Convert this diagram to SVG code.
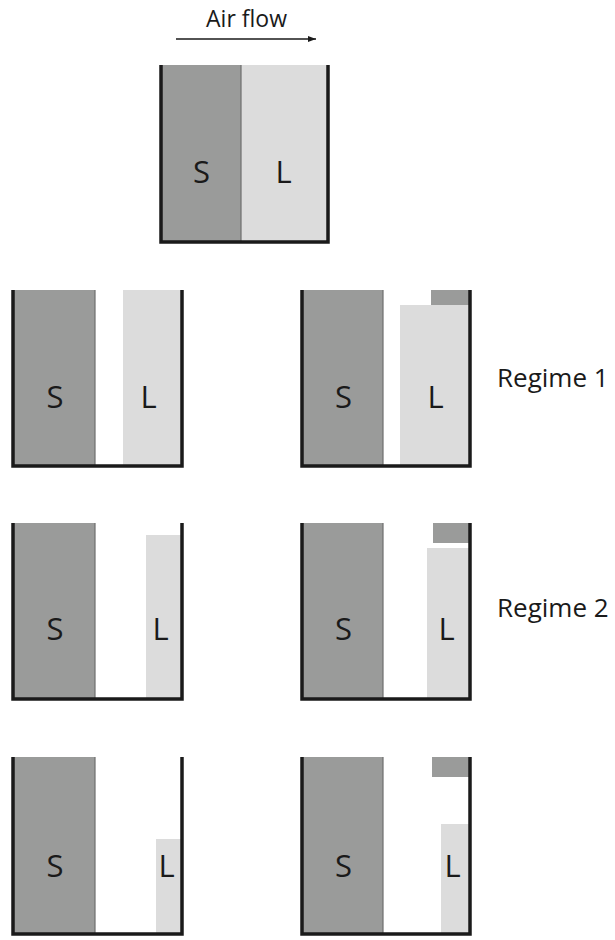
<svg xmlns="http://www.w3.org/2000/svg" width="615" height="940" viewBox="0 0 615 940">
<style>
.wall{fill:none;stroke:#1a1a1a;stroke-width:3.5;stroke-linejoin:miter;stroke-linecap:butt}
.s{fill:#9a9b9a}
.sedge{stroke:#6e6e6e;stroke-width:1.2}
.l{fill:#dcdcdc}
.lab{font-family:"Open Sans",sans-serif;font-size:31px;fill:#1a1a1a}
.txt{font-family:"Open Sans",sans-serif;fill:#1a1a1a}
</style>
<defs>
<marker id="ah" markerWidth="8" markerHeight="6" refX="8" refY="3" orient="auto" markerUnits="userSpaceOnUse">
<path d="M0,0 L8,3 L0,6 Z" fill="#1a1a1a"/>
</marker>
</defs>
<rect width="615" height="940" fill="#fff"/>
<g id="airflow">
<text class="txt" x="246.5" y="27" font-size="23" text-anchor="middle">Air flow</text>
<line x1="176" y1="39" x2="316" y2="39" stroke="#1a1a1a" stroke-width="1.3" marker-end="url(#ah)"/>
</g>
<g id="top">
<rect class="s" x="161" y="65" width="80" height="177"/>
<rect class="l" x="241" y="65" width="87" height="177"/>
<line class="sedge" x1="241" y1="65" x2="241" y2="242"/>
<path class="wall" d="M161,65 V242 H328 V65"/>
<text class="lab" x="201.5" y="183" text-anchor="middle">S</text>
<text class="lab" x="275.5" y="183">L</text>
</g>
<g id="r1left">
<rect class="s" x="13" y="290" width="82" height="176"/>
<line class="sedge" x1="95" y1="290" x2="95" y2="466"/>
<rect class="l" x="123" y="290" width="58" height="176"/>
<path class="wall" d="M13,290 V466 H182 V290"/>
<text class="lab" x="55" y="408" text-anchor="middle">S</text>
<text class="lab" x="140.5" y="408">L</text>
</g>
<g id="r1right">
<rect class="s" x="302" y="290" width="81" height="176"/>
<line class="sedge" x1="383" y1="290" x2="383" y2="466"/>
<rect class="l" x="400" y="305" width="69" height="161"/>
<rect class="s" x="431" y="290" width="38" height="15"/>
<path class="wall" d="M302,290 V466 H470 V290"/>
<text class="lab" x="343.5" y="408" text-anchor="middle">S</text>
<text class="lab" x="427.5" y="408">L</text>
</g>
<g id="r2left">
<rect class="s" x="13" y="523" width="82" height="176"/>
<line class="sedge" x1="95" y1="523" x2="95" y2="699"/>
<rect class="l" x="146" y="535" width="35" height="164"/>
<path class="wall" d="M13,523 V699 H182 V523"/>
<text class="lab" x="55" y="640" text-anchor="middle">S</text>
<text class="lab" x="152.5" y="640">L</text>
</g>
<g id="r2right">
<rect class="s" x="302" y="523" width="81" height="176"/>
<line class="sedge" x1="383" y1="523" x2="383" y2="699"/>
<rect class="l" x="427" y="548" width="42" height="151"/>
<rect class="s" x="433" y="523" width="36" height="20"/>
<path class="wall" d="M302,523 V699 H470 V523"/>
<text class="lab" x="343.5" y="640" text-anchor="middle">S</text>
<text class="lab" x="438.5" y="640">L</text>
</g>
<g id="r3left">
<rect class="s" x="13" y="757" width="82" height="177"/>
<line class="sedge" x1="95" y1="757" x2="95" y2="934"/>
<rect class="l" x="156" y="839" width="25" height="95"/>
<path class="wall" d="M13,757 V934 H182 V757"/>
<text class="lab" x="55" y="877" text-anchor="middle">S</text>
<text class="lab" x="158.5" y="877">L</text>
</g>
<g id="r3right">
<rect class="s" x="302" y="757" width="81" height="177"/>
<line class="sedge" x1="383" y1="757" x2="383" y2="934"/>
<rect class="l" x="441" y="824" width="28" height="110"/>
<rect class="s" x="432" y="757" width="37" height="20"/>
<path class="wall" d="M302,757 V934 H470 V757"/>
<text class="lab" x="343.5" y="877" text-anchor="middle">S</text>
<text class="lab" x="444.5" y="877">L</text>
</g>
<g id="labels">
<text class="txt" x="497" y="387" font-size="26">Regime 1</text>
<text class="txt" x="497" y="617" font-size="26">Regime 2</text>
</g>
</svg>
